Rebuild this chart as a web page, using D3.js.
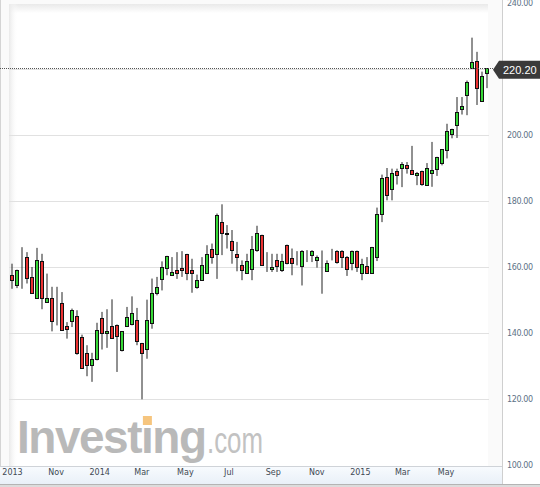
<!DOCTYPE html>
<html>
<head>
<meta charset="utf-8">
<script src="https://d3js.org/d3.v7.min.js"></script>
<style>
  html, body { margin: 0; padding: 0; background: #fff; }
  svg { display: block; }
</style>
</head>
<body>
<div id="chart"></div>
<script>
// weekly candles, first week starts 2013-09-01
const firstWeek = new Date(2013, 8, 1);
const openVals  = [157.5,154.6,158.5,163,157,150.6,161.8,149.4,150.6,148,149.2,142.1,143.6,145.2,138.8,134,130.4,132,144.5,140.1,
                   142.1,142.3,134.7,142,142.6,144,137,135.3,143,152,156.4,159.7,157.5,159,159.7,164,159.2,153.9,156.1,158.3,
                   165.6,163.8,173.5,170.2,167.8,164,160.5,158.3,159.4,165.2,169.7,160.5,159.5,162,159,166.7,162.7,161.2,160.3,165,
                   163.7,162,161.8,158.7,164,165,165,163,161.2,164.8,158.2,160.3,158.3,163,176,187.3,183.7,189,190,191,
                   189.3,188,189,185,188.6,189.6,191.4,195.4,200.4,202.9,208,212,220.2,222.5,210.2,218.8];
const highVals  = [161,159.2,166,164.5,160,165.8,164,158,154,154,152.4,143.3,147.4,146.9,139.5,136.3,134,143.1,146.4,147.2,
                   150.2,142.6,140.5,147.9,151.1,147.6,137,150.1,156.5,157,161.7,163.4,163,164.5,164.8,164,162.5,157.7,163,166.6,
                   167.1,176.2,179,172.7,171.2,167.6,162,164,169.4,172.5,169.8,164.5,164,164,164,166.8,165.6,164.8,165.1,165.1,
                   165.1,163.5,165,162,165.5,165.1,165.1,163.3,165,165,162.5,163,166.1,178,188,190,189.8,189.8,191.8,191.8,
                   196.7,188.8,189.2,191.5,197.9,193.4,195.7,203.4,201.9,211.5,211.5,216.5,229.5,225.2,219.2,220.2];
const lowVals   = [153.4,153.6,153.4,155,152,150.6,147.2,149.4,140.5,142.3,141,138.3,141.8,133.4,129.2,126.9,125.2,131.7,135,135.5,
                   138.5,128.2,134.4,142,142.3,136.3,119.9,132.2,141.3,151.4,152.9,157.5,157.5,156.4,157,156,152.2,153.4,156,158,
                   161,156.4,163.6,165.6,161,158.7,156,158,156,164.6,160.5,158.5,158.5,158.5,158.5,160.8,157.5,160.5,154.4,161.5,
                   161.5,159.8,151.9,158.5,162,161,159.7,157.3,159,158.5,156,157.9,157.9,161.8,173.6,180.2,180.2,185,184.2,188.3,
                   188,184.8,184.6,184.6,184.3,187.6,190.8,192.9,199,199.1,206.2,206,220,209.1,210.2,214.2];
const closeVals = [156,159,158.6,156.7,152.2,162,150.6,150.6,143.5,147.9,141,141.3,147,134,129.4,130.4,132.2,141,140.1,140.6,
                   138.6,139,140.5,144.8,146,137.6,134,144,152,154,160,163.4,158.5,158.3,159,158.3,158.3,156.2,160.7,164,
                   163,175.9,170.2,170.1,165.1,163,159.2,161.7,165.4,170.2,160.6,160.5,160,160.2,161.7,161.2,161.2,161.3,165,164.9,
                   165,163,161.7,161.2,164,161.5,163,159.4,164.8,160,160.8,158.2,166,176,187,181.7,188.5,188,191.3,190,
                   188.3,188.6,185.3,190,189.3,193.4,195.7,201.1,201.7,207.1,208.9,216,222,214.2,217.8,220.2];

const xTickDates  = [new Date(2013, 8, 1), new Date(2013, 10, 1), new Date(2014, 0, 1), new Date(2014, 2, 1),
                     new Date(2014, 4, 1), new Date(2014, 6, 1), new Date(2014, 8, 1), new Date(2014, 10, 1),
                     new Date(2015, 0, 1), new Date(2015, 2, 1), new Date(2015, 4, 1)];
const xTickLabels = ["2013", "Nov", "2014", "Mar", "May", "Jul", "Sep", "Nov", "2015", "Mar", "May"];
// 220.00 sits under the last price tag, so it is left out
const yTicks = [100, 120, 140, 160, 180, 200, 240];
const gridTicks = [120, 140, 160, 180, 200, 220];

const width = 540, height = 487;
const plotRight = 502, plotBottom = 466;
const upColor = "#37d837", downColor = "#eb3232";

const candles = openVals.map((o, i) => ({
  date: d3.timeDay.offset(firstWeek, i * 7),
  open: o, high: highVals[i], low: lowVals[i], close: closeVals[i]
}));

const svg = d3.select("#chart").append("svg")
  .attr("width", width)
  .attr("height", height);

const defs = svg.append("defs");
const shadowTop = defs.append("linearGradient").attr("id", "shTop")
  .attr("x1", 0).attr("y1", 0).attr("x2", 0).attr("y2", 1);
shadowTop.append("stop").attr("offset", "0%").attr("stop-color", "#e9e9e9");
shadowTop.append("stop").attr("offset", "100%").attr("stop-color", "#fff");
const shadowLeft = defs.append("linearGradient").attr("id", "shLeft")
  .attr("x1", 0).attr("y1", 0).attr("x2", 1).attr("y2", 0);
shadowLeft.append("stop").attr("offset", "0%").attr("stop-color", "#e9e9e9");
shadowLeft.append("stop").attr("offset", "100%").attr("stop-color", "#fff").attr("stop-opacity", 0);
const stripGrad = defs.append("linearGradient").attr("id", "strip")
  .attr("x1", 0).attr("y1", 0).attr("x2", 0).attr("y2", 1);
stripGrad.append("stop").attr("offset", "0%").attr("stop-color", "#f8fbfe");
stripGrad.append("stop").attr("offset", "100%").attr("stop-color", "#e9f0f8");

// scales
const x = d3.scaleTime()
  .domain([candles[0].date, candles[candles.length - 1].date])
  .range([12, 487]);
const y = d3.scaleLinear()
  .domain([100, 240])
  .range([465, 3]);

// panel background
svg.append("rect").attr("x", 0).attr("y", 0).attr("width", plotRight).attr("height", plotBottom)
  .attr("fill", "#fafafa");
svg.append("rect").attr("x", 9).attr("y", 4).attr("width", 479).attr("height", plotBottom - 4)
  .attr("fill", "#fff");
svg.append("rect").attr("x", 9).attr("y", 4).attr("width", 479).attr("height", 9)
  .attr("fill", "url(#shTop)");
svg.append("rect").attr("x", 9).attr("y", 4).attr("width", 9).attr("height", plotBottom - 4)
  .attr("fill", "url(#shLeft)");
svg.append("line").attr("x1", 0.5).attr("x2", 0.5).attr("y1", 0).attr("y2", 485)
  .attr("stroke", "#d4d4d4");

// grid
svg.append("g").selectAll("line")
  .data(gridTicks)
  .join("line")
  .attr("x1", 9).attr("x2", 489)
  .attr("y1", d => Math.round(y(d)) + 0.5)
  .attr("y2", d => Math.round(y(d)) + 0.5)
  .attr("stroke", "#e1e1e1");

// watermark
const wm = svg.append("g").attr("fill", "#b9b9b9");
const wmText = wm.append("text")
  .attr("x", 17).attr("y", 453)
  .style("font-family", "'Liberation Sans', Arial, sans-serif")
  .style("font-weight", "bold")
  .style("font-size", "46px")
  .attr("textLength", 190)
  .attr("lengthAdjust", "spacing")
  .text("Invest\u0131ng");
wm.append("text")
  .attr("x", 207).attr("y", 453)
  .attr("fill", "#c2c2c2")
  .style("font-family", "'Liberation Sans', Arial, sans-serif")
  .style("font-size", "36px")
  .attr("textLength", 56)
  .attr("lengthAdjust", "spacingAndGlyphs")
  .text(".com");
const iBox = wmText.node().getExtentOfChar(6);
wm.append("rect")
  .attr("x", iBox.x + iBox.width / 2 - 4.5).attr("y", 416)
  .attr("width", 9).attr("height", 9)
  .attr("fill", "#f6c57e");

// borders and x strip
svg.append("rect").attr("x", 0).attr("y", plotBottom).attr("width", plotRight).attr("height", 18)
  .attr("fill", "url(#strip)");
svg.append("line").attr("x1", 0).attr("x2", plotRight).attr("y1", plotBottom + 0.5).attr("y2", plotBottom + 0.5)
  .attr("stroke", "#cfd3d8");
svg.append("line").attr("x1", plotRight + 0.5).attr("x2", plotRight + 0.5).attr("y1", 0).attr("y2", 485)
  .attr("stroke", "#cfcfcf");
svg.append("rect").attr("x", 0).attr("y", 484).attr("width", width).attr("height", 3)
  .attr("fill", "#dcdcdc");
svg.append("line").attr("x1", 0).attr("x2", width).attr("y1", 484.5).attr("y2", 484.5)
  .attr("stroke", "#b4b4b4");

// candles
const cg = svg.append("g");
const cx = d => Math.round(x(d.date));
cg.selectAll(".wick")
  .data(candles)
  .join("line")
  .attr("class", "wick")
  .attr("x1", cx).attr("x2", cx)
  .attr("y1", d => y(d.high))
  .attr("y2", d => y(d.low))
  .attr("stroke", "#222")
  .attr("stroke-width", 1);
cg.selectAll(".body")
  .data(candles)
  .join("rect")
  .attr("class", "body")
  .attr("x", d => cx(d) - 1.5)
  .attr("width", 3)
  .attr("y", d => Math.round(y(Math.max(d.open, d.close))) + 0.5)
  .attr("height", d => Math.max(0, Math.round(y(Math.min(d.open, d.close))) - Math.round(y(Math.max(d.open, d.close)))))
  .attr("fill", d => d.close >= d.open ? upColor : downColor)
  .attr("stroke", "#111")
  .attr("stroke-width", 1);

// y axis on the right
const yAxis = svg.append("g")
  .attr("transform", `translate(${plotRight + 5},0)`)
  .call(d3.axisRight(y).tickValues(yTicks).tickFormat(d3.format(".2f")).tickSize(0).tickPadding(0));
yAxis.select(".domain").remove();
yAxis.selectAll("text")
  .attr("fill", "#5d7186")
  .style("font-family", "'DejaVu Sans', Verdana, sans-serif")
  .style("font-size", "8px")
  .attr("textLength", 26);

// x axis labels
const xAxis = svg.append("g")
  .attr("transform", `translate(0,${plotBottom + 3})`)
  .call(d3.axisBottom(x).tickValues(xTickDates).tickFormat((d, i) => xTickLabels[i]).tickSize(0).tickPadding(0));
xAxis.select(".domain").remove();
xAxis.selectAll("text")
  .attr("fill", "#3e4852")
  .style("font-family", "'DejaVu Sans', Verdana, sans-serif")
  .style("font-size", "8px");

// last price line and tag
const last = candles[candles.length - 1].close;
const ly = Math.round(y(last)) + 0.5;
svg.append("line")
  .attr("x1", 0).attr("x2", 493)
  .attr("y1", ly).attr("y2", ly)
  .attr("stroke", "#555")
  .attr("stroke-dasharray", "1,1");
const ty = y(last) + 1.5;
svg.append("path")
  .attr("d", `M493,${ty} L499,${ty - 9} L540,${ty - 9} L540,${ty + 9} L499,${ty + 9} Z`)
  .attr("fill", "#3a3a3a");
svg.append("text")
  .attr("x", 503).attr("y", ty + 4)
  .attr("fill", "#fff")
  .style("font-family", "'Liberation Sans', Arial, sans-serif")
  .style("font-size", "11px")
  .text(d3.format(".2f")(last));
</script>
</body>
</html>
